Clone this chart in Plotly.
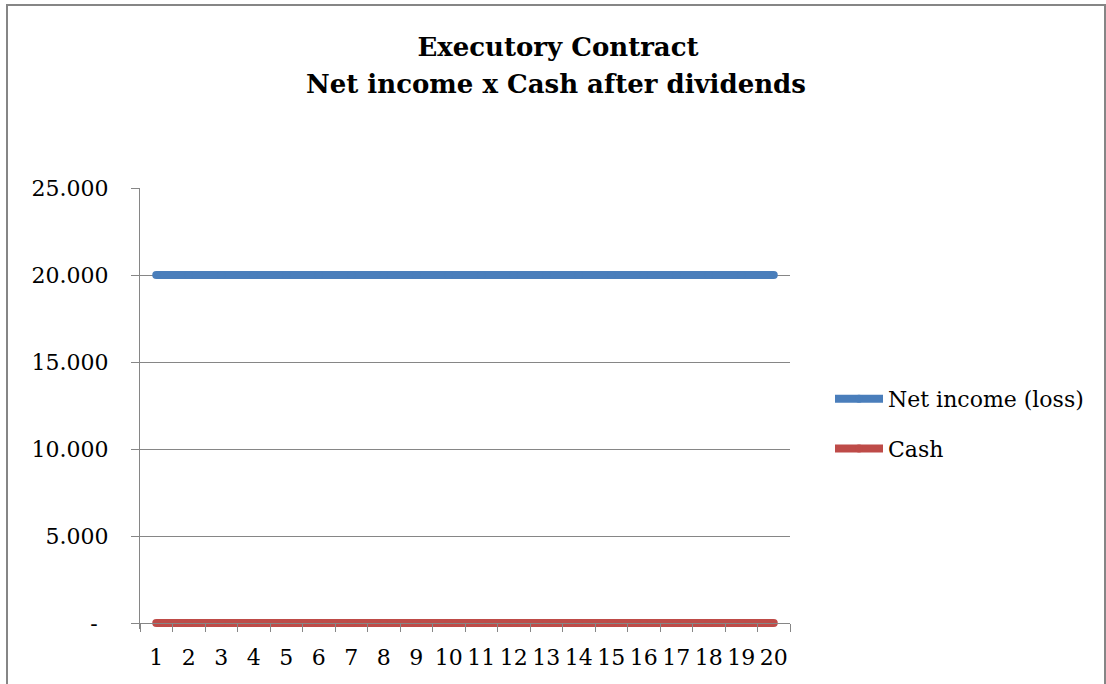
import plotly.graph_objects as go

periods = [str(i) for i in range(1, 21)]
net_income = [20000] * 20
cash = [0] * 20
y_tickvals = [0, 5000, 10000, 15000, 20000, 25000]
y_ticktext = ["-\u2002", "5.000", "10.000", "15.000", "20.000", "25.000"]

FONT = "DejaVu Serif"
GRID = "#868686"

# plot area: x 140..790, y 188..629 (zero line at 623)
PX_PER_UNIT = 435 / 25000
EXTRA = 6  # px below zero so the thick zero-valued line is not clipped
H = 441

fig = go.Figure()
fig.add_trace(go.Scatter(
    x=periods, y=net_income, name="Net income (loss)", mode="lines+markers",
    line=dict(color="#4A7EBB", width=8), marker=dict(size=8, color="#4A7EBB"),
    legendgroup="a", cliponaxis=False))
fig.add_trace(go.Scatter(
    x=periods, y=cash, name="Cash", mode="lines+markers",
    line=dict(color="#BE4B48", width=8), marker=dict(size=8, color="#BE4B48"),
    legendgroup="b", cliponaxis=False))

fig.update_layout(
    width=1106, height=684,
    margin=dict(l=140, r=316, t=188, b=61 - EXTRA),
    paper_bgcolor="white", plot_bgcolor="white",
    font=dict(family=FONT, size=22, color="black"),
    title=dict(text="<b>Executory Contract</b>",
               x=558 / 1106, xanchor="center", y=1 - 47 / 684, yanchor="middle",
               font=dict(family=FONT, size=26, color="black")),
    showlegend=True,
    legend=dict(x=(830 - 140) / 650, xanchor="left", y=(629 - 424) / H,
                yanchor="middle", tracegroupgap=18, itemwidth=48,
                bgcolor="rgba(0,0,0,0)", font=dict(family=FONT, size=22)),
    xaxis=dict(type="category", tickson="boundaries", ticks="outside", ticklen=8,
               tickcolor=GRID, showline=True, linecolor=GRID, linewidth=1,
               showgrid=False, zeroline=False, ticklabelstandoff=15, tickangle=0,
               range=[-0.5, 19.5], anchor="free", position=EXTRA / H),
    yaxis=dict(range=[-EXTRA / PX_PER_UNIT, 25000], tickvals=y_tickvals,
               ticktext=y_ticktext, ticks="outside", ticklen=8, tickcolor=GRID,
               showline=True, linecolor=GRID, linewidth=1, showgrid=True,
               gridcolor=GRID, gridwidth=1, zeroline=False, ticklabelstandoff=18),
)

fig.add_annotation(text="<b>Net income x Cash after dividends</b>",
                   xref="paper", yref="paper", x=(556 - 140) / 650,
                   y=(629 - 84) / H, xanchor="center", yanchor="middle",
                   showarrow=False, font=dict(family=FONT, size=26, color="black"))

# chart-area border (partially cropped, like the source)
fig.add_shape(type="rect", xref="paper", yref="paper",
              x0=(7 - 140) / 650, x1=(1105 - 140) / 650,
              y0=(629 - 700) / H, y1=(629 - 5) / H,
              line=dict(color=GRID, width=2), layer="below")

fig.write_html("out.html")
